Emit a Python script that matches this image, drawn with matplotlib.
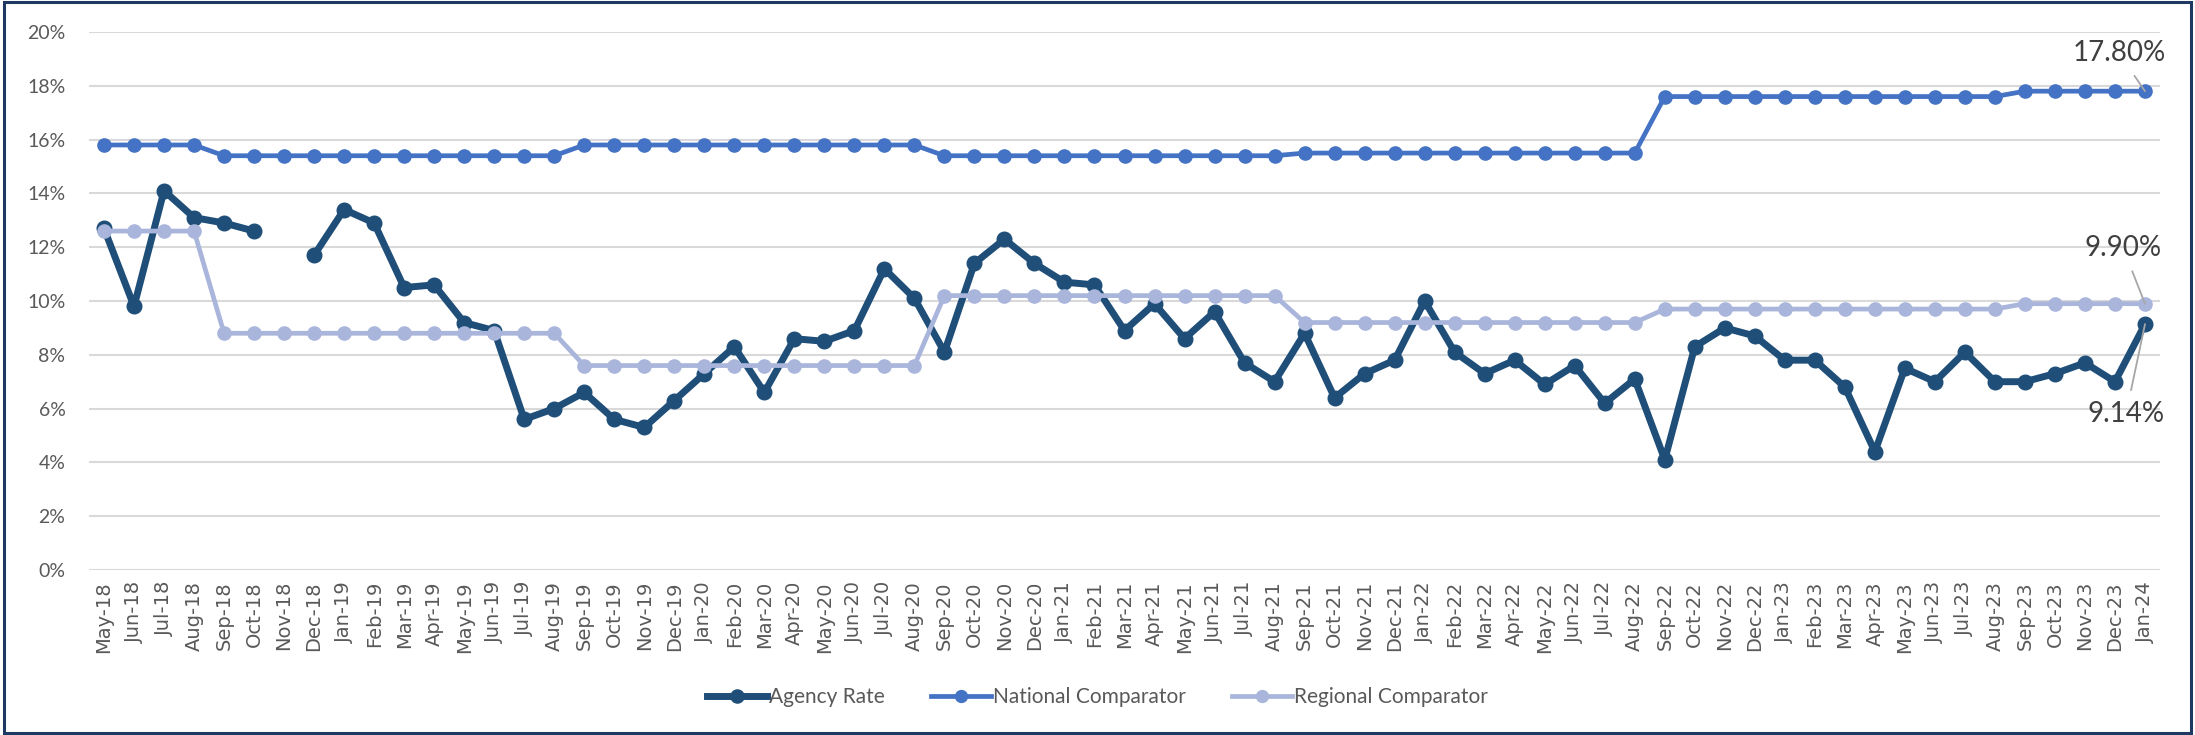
import numpy as np
import matplotlib
matplotlib.use("Agg")
import matplotlib.pyplot as plt
from matplotlib.patches import Rectangle
from matplotlib.ticker import FuncFormatter

months = ["May-18", "Jun-18", "Jul-18", "Aug-18", "Sep-18", "Oct-18", "Nov-18", "Dec-18",
          "Jan-19", "Feb-19", "Mar-19", "Apr-19", "May-19", "Jun-19", "Jul-19", "Aug-19",
          "Sep-19", "Oct-19", "Nov-19", "Dec-19",
          "Jan-20", "Feb-20", "Mar-20", "Apr-20", "May-20", "Jun-20", "Jul-20", "Aug-20",
          "Sep-20", "Oct-20", "Nov-20", "Dec-20",
          "Jan-21", "Feb-21", "Mar-21", "Apr-21", "May-21", "Jun-21", "Jul-21", "Aug-21",
          "Sep-21", "Oct-21", "Nov-21", "Dec-21",
          "Jan-22", "Feb-22", "Mar-22", "Apr-22", "May-22", "Jun-22", "Jul-22", "Aug-22",
          "Sep-22", "Oct-22", "Nov-22", "Dec-22",
          "Jan-23", "Feb-23", "Mar-23", "Apr-23", "May-23", "Jun-23", "Jul-23", "Aug-23",
          "Sep-23", "Oct-23", "Nov-23", "Dec-23",
          "Jan-24"]

agency_rate = [12.7, 9.8, 14.1, 13.1, 12.9, 12.6, np.nan, 11.7,
               13.4, 12.9, 10.5, 10.6, 9.2, 8.9, 5.6, 6.0, 6.6, 5.6, 5.3, 6.3,
               7.3, 8.3, 6.6, 8.6, 8.5, 8.9, 11.2, 10.1, 8.1, 11.4, 12.3, 11.4,
               10.7, 10.6, 8.9, 9.9, 8.6, 9.6, 7.7, 7.0, 8.8, 6.4, 7.3, 7.8,
               10.0, 8.1, 7.3, 7.8, 6.9, 7.6, 6.2, 7.1, 4.1, 8.3, 9.0, 8.7,
               7.8, 7.8, 6.8, 4.4, 7.5, 7.0, 8.1, 7.0, 7.0, 7.3, 7.7, 7.0,
               9.14]

national_comparator = [15.8] * 4 + [15.4] * 12 + [15.8] * 12 + [15.4] * 12 + \
                      [15.5] * 12 + [17.6] * 12 + [17.8] * 5

regional_comparator = [12.6] * 4 + [8.8] * 12 + [7.6] * 12 + [10.2] * 12 + \
                      [9.2] * 12 + [9.7] * 12 + [9.9] * 5

series_names = ["Agency Rate", "National Comparator", "Regional Comparator"]
end_labels = ["9.14%", "17.80%", "9.90%"]

c_agency = "#1F4E79"
c_national = "#4472C4"
c_regional = "#A9B5DB"
text_col = "#595959"

fig = plt.figure(figsize=(21.95, 7.35), dpi=100)
ax = fig.add_axes([89 / 2195, 1 - 570 / 735, (2160 - 89) / 2195, (570 - 32) / 735])

x = np.arange(len(months))
ag = np.array(agency_rate) / 100
na = np.array(national_comparator) / 100
re = np.array(regional_comparator) / 100

ax.plot(x, ag, color=c_agency, lw=5, marker="o", ms=10.5, label=series_names[0],
        solid_joinstyle="round", zorder=3)
ax.plot(x, na, color=c_national, lw=3.4, marker="o", ms=9.5, label=series_names[1],
        solid_joinstyle="round", zorder=4)
ax.plot(x, re, color=c_regional, lw=3.4, marker="o", ms=9.5, label=series_names[2],
        solid_joinstyle="round", zorder=5)

ax.set_xlim(-0.5, len(months) - 0.5)
ax.set_ylim(0, 0.20)
ax.set_yticks(np.arange(0, 0.201, 0.02))
ax.yaxis.set_major_formatter(FuncFormatter(lambda v, p: f"{v*100:.0f}%"))
ax.set_xticks(x)
ax.set_xticklabels(months, rotation=90, fontsize=14, color=text_col,
                   family="DejaVu Sans")
for lab in ax.get_yticklabels():
    lab.set_family("Lato")
    lab.set_fontsize(14)
    lab.set_color(text_col)
ax.tick_params(axis="y", length=0, pad=17)
ax.tick_params(axis="x", length=0, pad=8)
ax.grid(axis="y", color="#D9D9D9", lw=1.5)
ax.set_axisbelow(True)
for s in ax.spines.values():
    s.set_visible(False)

# end-point labels
last = len(months) - 1
ann = [(ag[last], end_labels[0], (-19, -90)),
       (na[last], end_labels[1], (-26, 38)),
       (re[last], end_labels[2], (-22, 56))]
for yv, txt, off in ann:
    ax.annotate(txt, xy=(last, yv), xytext=off, textcoords="offset pixels",
                ha="center", va="center", fontsize=20, family="Lato", color="#404040",
                arrowprops=dict(arrowstyle="-", color="#A6A6A6", lw=1.3,
                                shrinkA=6, shrinkB=0),
                zorder=6)

leg = fig.legend(*ax.get_legend_handles_labels(), loc="center",
                 bbox_to_anchor=(0.5, 1 - 697 / 735), ncol=3, frameon=False,
                 prop={"family": "Lato", "size": 15}, handlelength=2.9,
                 handletextpad=0.1, columnspacing=2.2, markerscale=0.9)
for t in leg.get_texts():
    t.set_color(text_col)

fig.patches.append(Rectangle((0.002, 0.003), 0.996, 0.994, transform=fig.transFigure,
                             fill=False, edgecolor="#1F3864", lw=2.2))

fig.savefig("out.png", dpi=100)
